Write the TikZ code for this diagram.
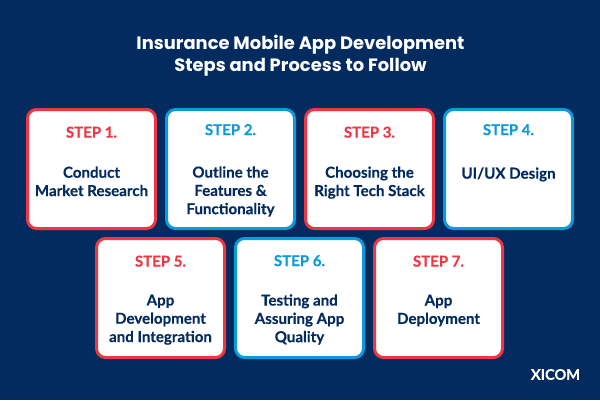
\documentclass[tikz,border=0pt]{standalone}
\usepackage{fontspec}
\setmainfont{Lato}[BoldFeatures={FakeBold=0.3}]
\newfontfamily\titlefont{Poppins}
\definecolor{bgnavy}{HTML}{032B60}
\definecolor{cardred}{HTML}{EE3742}
\definecolor{cardblue}{HTML}{0B9BDC}
\tikzset{
  card/.style={draw=#1,fill=white,line width=3pt,rounded corners=9pt,minimum width=128pt,minimum height=119pt,inner sep=0pt,anchor=north west},
  steplabel/.style={text=#1,font=\fontsize{15}{18}\selectfont\bfseries,anchor=center,inner sep=0pt,yshift=-3pt,execute at begin node=\strut},
  bodytext/.style={text=bgnavy,font=\fontsize{15.1}{18.3}\selectfont\bfseries,align=center,anchor=center,inner sep=0pt,yshift=-3pt,execute at begin node=\strut,execute at end node=\strut},
  titletext/.style={text=white,font=\titlefont\fontsize{17.9}{21.5}\selectfont\bfseries,align=center,anchor=center,inner sep=0pt},
  logotext/.style={text=white,font=\fontsize{14.6}{16}\selectfont\bfseries,anchor=center,inner sep=0pt}
}
\begin{document}
\begin{tikzpicture}[x=1pt,y=-1pt]
\useasboundingbox (0,0) rectangle (600,400);
\fill[bgnavy] (0,0) rectangle (600,400);
\node[titletext] (title) at (300.5,55.5) {Insurance Mobile App Development\\Steps and Process to Follow};

\node[card=cardred]  (c1) at (26,108) {};
\node[card=cardblue] (c2) at (165,108) {};
\node[card=cardred]  (c3) at (304,108) {};
\node[card=cardblue] (c4) at (443,108) {};
\node[card=cardred]  (c5) at (95,237) {};
\node[card=cardblue] (c6) at (234,237) {};
\node[card=cardred]  (c7) at (373,237) {};

\node[steplabel=cardred]  (s1) at (91.5,131) {STEP 1.};
\node[steplabel=cardblue] (s2) at (230.5,128.5) {STEP 2.};
\node[steplabel=cardred]  (s3) at (369.5,131) {STEP 3.};
\node[steplabel=cardblue] (s4) at (508.5,128.5) {STEP 4.};
\node[steplabel=cardred]  (s5) at (160.5,260) {STEP 5.};
\node[steplabel=cardblue] (s6) at (299.5,259.5) {STEP 6.};
\node[steplabel=cardred]  (s7) at (438.5,260) {STEP 7.};

\node[bodytext] (b1) at (91.5,181) {Conduct\\Market Research};
\node[bodytext] (b2) at (230.5,190) {Outline the\\Features \&\\Functionality};
\node[bodytext] (b3) at (369.5,181) {Choosing the\\Right Tech Stack};
\node[bodytext] (b4) at (508.5,172) {UI/UX Design};
\node[bodytext] (b5) at (160.5,318) {App\\Development\\and Integration};
\node[bodytext] (b6) at (299.5,318) {Testing and\\Assuring App\\Quality};
\node[bodytext] (b7) at (438.5,309) {App\\Deployment};

\node[logotext] (logo) at (555.5,374.5) {XICOM};
\end{tikzpicture}
\end{document}
